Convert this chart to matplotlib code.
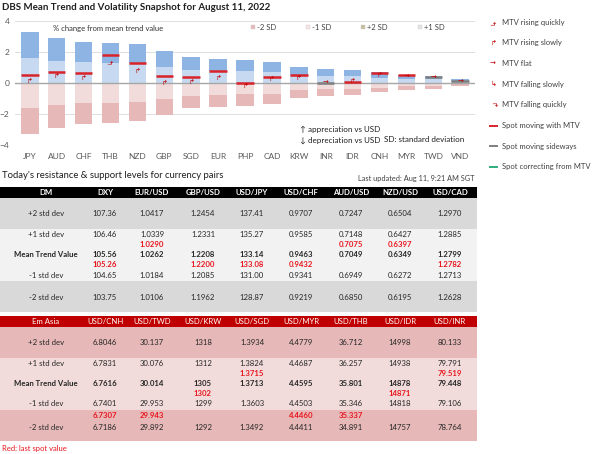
import matplotlib
matplotlib.use('Agg')
import matplotlib.pyplot as plt
from matplotlib.patches import Rectangle

plt.rcParams['font.family'] = ['Lato', 'DejaVu Sans']

# chart data (% change from mean trend value)
currencies = ['JPY', 'AUD', 'CHF', 'THB', 'NZD', 'GBP', 'SGD', 'EUR', 'PHP',
              'CAD', 'KRW', 'INR', 'IDR', 'CNH', 'MYR', 'TWD', 'VND']
plus2 = [3.25, 2.86, 2.60, 2.58, 2.47, 2.04, 1.64, 1.53, 1.50, 1.34, 1.00, 0.87, 0.82, 0.67, 0.51, 0.44, 0.23]
plus1 = [1.61, 1.40, 1.31, 1.29, 1.25, 1.03, 0.82, 0.77, 0.75, 0.67, 0.50, 0.44, 0.41, 0.33, 0.25, 0.22, 0.12]
minus1 = [-1.61, -1.43, -1.32, -1.28, -1.24, -1.01, -0.84, -0.78, -0.74, -0.70, -0.45, -0.42, -0.40, -0.31, -0.22, -0.20, -0.10]
minus2 = [-3.27, -2.88, -2.62, -2.58, -2.47, -2.04, -1.62, -1.53, -1.50, -1.34, -0.97, -0.85, -0.75, -0.62, -0.45, -0.38, -0.21]
spot = [0.50, 0.67, 0.65, 1.79, 1.29, 0.47, 0.35, 0.75, -0.02, 0.35, 0.52, 0.02, 0.03, 0.65, 0.48, 0.39, 0.15]
spot_state = ['with'] * 11 + ['sideways', 'with', 'with', 'with', 'sideways', 'sideways']
trend = ['rs', 'rs', 'rs', 'rq', 'rs', 'rs', 'rs', 'rs', 'rs', 'rs', 'rs', 'flat', 'rs', 'rs', 'flat', 'flat', 'flat']
trend_pos = [0.10, 0.43, 0.35, 1.40, 0.77, -0.02, 0.06, 0.30, -0.20, 0.24, 0.32, 0.0, 0.15, 0.50, 0.40, 0.30, 0.08]

# DM table
dm_cols = ['DM', 'DXY', 'EUR/USD', 'GBP/USD', 'USD/JPY', 'USD/CHF', 'AUD/USD', 'NZD/USD', 'USD/CAD']
dm_p2 = ['107.36', '1.0417', '1.2454', '137.41', '0.9707', '0.7247', '0.6504', '1.2970']
dm_p1 = ['106.46', '1.0339', '1.2331', '135.27', '0.9585', '0.7148', '0.6427', '1.2885']
dm_mean = ['105.56', '1.0262', '1.2208', '133.14', '0.9463', '0.7049', '0.6349', '1.2799']
dm_m1 = ['104.65', '1.0184', '1.2085', '131.00', '0.9341', '0.6949', '0.6272', '1.2713']
dm_m2 = ['103.75', '1.0106', '1.1962', '128.87', '0.9219', '0.6850', '0.6195', '1.2628']
dm_spot = ['105.26', '1.0290', '1.2200', '133.08', '0.9432', '0.7075', '0.6397', '1.2782']

# Em Asia table
ea_cols = ['Em Asia', 'USD/CNH', 'USD/TWD', 'USD/KRW', 'USD/SGD', 'USD/MYR', 'USD/THB', 'USD/IDR', 'USD/INR']
ea_p2 = ['6.8046', '30.137', '1318', '1.3934', '4.4779', '36.712', '14998', '80.133']
ea_p1 = ['6.7831', '30.076', '1312', '1.3824', '4.4687', '36.257', '14938', '79.791']
ea_mean = ['6.7616', '30.014', '1305', '1.3713', '4.4595', '35.801', '14878', '79.448']
ea_m1 = ['6.7401', '29.953', '1299', '1.3603', '4.4503', '35.346', '14818', '79.106']
ea_m2 = ['6.7186', '29.892', '1292', '1.3492', '4.4411', '34.891', '14757', '78.764']
ea_spot = ['6.7307', '29.943', '1302', '1.3715', '4.4460', '35.337', '14871', '79.519']

row_labels = ['+2 std dev', '+1 std dev', 'Mean Trend Value', '-1 std dev', '-2 std dev']

fig = plt.figure(figsize=(6.05, 4.54), dpi=100)
bg = fig.add_axes([0, 0, 1, 1])
bg.set_xlim(0, 605)
bg.set_ylim(454, 0)
bg.axis('off')

# ---- chart ----
ax = fig.add_axes([15 / 605, 1 - 145 / 454, 460 / 605, 124.3 / 454])
xs = list(range(len(currencies)))
w = 0.65
ax.bar(xs, plus1, w, color='#C6D9F1', zorder=2)
ax.bar(xs, [a - b for a, b in zip(plus2, plus1)], w, bottom=plus1, color='#8EB4E3', zorder=2)
ax.bar(xs, minus1, w, color='#F2DCDB', zorder=2)
ax.bar(xs, [a - b for a, b in zip(minus2, minus1)], w, bottom=minus1, color='#E6B9B8', zorder=2)

state_col = {'with': '#D8232A', 'sideways': '#7F7F7F', 'correct': '#2EAD7A'}
for i in xs:
    ax.hlines(spot[i], i - w / 2, i + w / 2, colors=state_col[spot_state[i]], lw=1.8, zorder=4)

# trend glyphs: (character, rotation)
glyph = {'rq': ('↳', 90), 'rs': ('↱', 0), 'flat': ('→', 0), 'fs': ('↳', 0), 'fq': ('↱', -90)}
for i in xs:
    g, rot = glyph[trend[i]]
    ax.text(i, trend_pos[i], g, ha='center', va='center', fontsize=5, rotation=rot,
            color='#C00000', zorder=5, family=['DejaVu Sans'])

ax.set_xlim(-0.55, len(currencies) - 0.45)
ax.set_ylim(-4, 4)
ax.set_yticks([-4, -2, 0, 2, 4])
ax.set_xticks(xs)
ax.set_xticklabels(currencies)
ax.tick_params(length=0, labelsize=6, colors='#595959', pad=6)
ax.tick_params(axis='y', pad=4)
for s in ax.spines.values():
    s.set_visible(False)
ax.grid(axis='y', color='#D9D9D9', lw=0.6, zorder=0)
ax.axhline(0, color='#A6A6A6', lw=1, zorder=3)
ax.patch.set_alpha(0)

bg.text(2, 8, 'DBS Mean Trend and Volatility Snapshot for August 11, 2022', fontsize=7,
        fontweight='bold', va='center', ha='left', color='#1F1F1F')
bg.text(53, 29, '% change from mean trend value', fontsize=5.5, va='center', color='#333333')

# top legend (as in the source)
leg = [('-2 SD', '#E6B9B8', 253), ('-1 SD', '#F7E4E3', 308), ('+2 SD', '#C4BD97', 363), ('+1 SD', '#E4E4E4', 420)]
for lab, c, lx in leg:
    bg.add_patch(Rectangle((lx - 2.5, 24.5), 4, 4, facecolor=c, edgecolor='#D0D0D0', lw=0.3))
    bg.text(lx + 4, 27, lab, fontsize=5.5, va='center', color='#404040')

bg.text(300, 129, '↑ appreciation vs USD', fontsize=5.8, va='center', color='#1F1F1F')
bg.text(300, 140, '↓ depreciation vs USD', fontsize=5.8, va='center', color='#1F1F1F')
bg.text(384, 140, 'SD: standard deviation', fontsize=5.8, va='center', color='#1F1F1F')

# right legend
side = [('rq', 'MTV rising quickly'), ('rs', 'MTV rising slowly'), ('flat', 'MTV flat'),
        ('fs', 'MTV falling slowly'), ('fq', 'MTV falling quickly')]
for k, (key, lab) in enumerate(side):
    yy = 22 + k * 20.7
    g, rot = glyph[key]
    bg.text(493, yy, g, fontsize=5, color='#C00000', ha='center', va='center', rotation=rot,
            family=['DejaVu Sans'])
    bg.text(502, yy, lab, fontsize=5.5, color='#404040', va='center')
lines_leg = [('#D8232A', 'Spot moving with MTV'), ('#7F7F7F', 'Spot moving sideways'),
             ('#2EAD7A', 'Spot correcting from MTV')]
for k, (c, lab) in enumerate(lines_leg):
    yy = 125.5 + k * 20.7
    bg.plot([490, 497], [yy, yy], color=c, lw=1.4)
    bg.text(502, yy, lab, fontsize=5.5, color='#404040', va='center')

# ---- tables ----
col_x = [46, 105, 152, 203, 252, 301, 351, 400, 450]
bg.text(2, 176, "Today's resistance & support levels for currency pairs", fontsize=6.8,
        va='center', color='#1F1F1F')
bg.text(475, 178, 'Last updated: Aug 11, 9:21 AM SGT', fontsize=5.3, va='center', ha='right',
        color='#404040')


def draw_table(top, cols, head_col, head_bold, band_dark, band_light, rows, spots):
    p2, p1, mean, m1, m2 = rows
    head_h = 11
    y0 = top
    bg.add_patch(Rectangle((0, y0), 477, head_h, facecolor=head_col, lw=0))
    for cx, t in zip(col_x, cols):
        bg.text(cx, y0 + head_h / 2, t, fontsize=5.6, color='white', ha='center', va='center',
                fontweight='bold' if head_bold else 'normal')
    b1 = y0 + head_h
    b2 = b1 + 31
    b3 = b2 + 52
    b4 = b3 + 31
    bg.add_patch(Rectangle((0, b1), 477, b2 - b1, facecolor=band_dark, lw=0))
    bg.add_patch(Rectangle((0, b2), 477, b3 - b2, facecolor=band_light, lw=0))
    bg.add_patch(Rectangle((0, b3), 477, b4 - b3, facecolor=band_dark, lw=0))
    ys = [b1 + 15.5, b2 + 5.5, b2 + 25.5, b2 + 46, b3 + 17]
    slots = [b2 + 15.5, b2 + 35.5, b3 + 6]
    for r, (lab, vals) in enumerate(zip(row_labels, rows)):
        bold = r == 2
        bg.text(col_x[0], ys[r], lab, fontsize=5.6, ha='center', va='center', color='#262626',
                fontweight='bold' if bold else 'normal')
        for cx, v in zip(col_x[1:], vals):
            bg.text(cx, ys[r], v, fontsize=5.6, ha='center', va='center', color='#262626',
                    fontweight='bold' if bold else 'normal')
    for j, s in enumerate(spots):
        sv = float(s)
        if sv > float(mean[j]):
            yy = slots[0]
        elif sv > float(m1[j]):
            yy = slots[1]
        else:
            yy = slots[2]
        bg.text(col_x[j + 1], yy, s, fontsize=5.6, ha='center', va='center', color='#E8161E',
                fontweight='bold')


draw_table(187, dm_cols, '#000000', True, '#D9D9D9', '#F2F2F2',
           [dm_p2, dm_p1, dm_mean, dm_m1, dm_m2], dm_spot)
draw_table(316, ea_cols, '#C00000', False, '#E6B9B8', '#F2DCDB',
           [ea_p2, ea_p1, ea_mean, ea_m1, ea_m2], ea_spot)

bg.text(2, 449, 'Red: last spot value', fontsize=5.5, va='center', color='#E8161E')

fig.savefig('out.png', dpi=100)
